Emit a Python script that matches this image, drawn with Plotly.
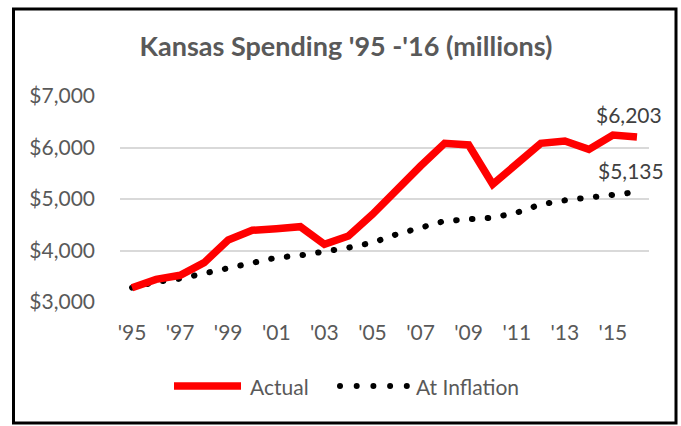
import plotly.graph_objects as go

years = list(range(1995, 2017))
year_labels = ["'" + str(y)[2:] for y in years]
actual = [3278, 3440, 3518, 3764, 4204, 4392, 4424, 4463, 4120, 4282, 4702,
          5188, 5641, 6081, 6049, 5285, 5673, 6081, 6126, 5964, 6243, 6203]
inflation = [3278, 3388, 3453, 3557, 3634, 3764, 3861, 3906, 3977, 4055, 4152,
             4314, 4443, 4573, 4605, 4638, 4735, 4896, 4974, 5026, 5058, 5135]
y_ticks = [3000, 4000, 5000, 6000, 7000]
title_text = "Kansas Spending '95 -'16 (millions)"
names = ["Actual", "At Inflation"]

W, H = 681, 426
ML, MR, MT, MB = 120, 32, 96, 124
PW, PH = W - ML - MR, H - MT - MB

def px(x):
    return (x - ML) / PW

def py(y):
    return (H - MB - y) / PH

FONT = "Lato"
GRAY = "#595959"
DOTS = "0.5px,15.3px"

fig = go.Figure()
fig.add_trace(go.Scatter(x=years, y=inflation, mode="lines", name=names[1],
                         line=dict(color="black", width=6, dash=DOTS),
                         showlegend=False))
fig.add_trace(go.Scatter(x=years, y=actual, mode="lines", name=names[0],
                         line=dict(color="#FF0000", width=7.5), showlegend=False))

# end labels
fig.add_annotation(x=years[-1], y=actual[-1], text="${:,}".format(actual[-1]),
                   showarrow=False, yshift=23, xshift=-8,
                   font=dict(family=FONT, size=21, color="#404040"))
fig.add_annotation(x=years[-1], y=inflation[-1], text="${:,}".format(inflation[-1]),
                   showarrow=False, yshift=22, xshift=-6,
                   font=dict(family=FONT, size=21, color="#404040"))

# manual legend
ly = py(386)
fig.add_shape(type="line", xref="paper", yref="paper", x0=px(174), x1=px(241), y0=ly, y1=ly,
              line=dict(color="#FF0000", width=7.5))
fig.add_annotation(xref="paper", yref="paper", x=px(248), y=ly, text=names[0], showarrow=False,
                   xanchor="left", yanchor="middle", font=dict(family=FONT, size=21, color=GRAY))
for i in range(5):
    fig.add_shape(type="circle", xref="paper", yref="paper",
                  xsizemode="pixel", ysizemode="pixel",
                  xanchor=px(340 + 16.7 * i), yanchor=ly,
                  x0=-3, x1=3, y0=-3, y1=3,
                  fillcolor="black", line=dict(width=0))
fig.add_annotation(xref="paper", yref="paper", x=px(414), y=ly, text=names[1], showarrow=False,
                   xanchor="left", yanchor="middle", font=dict(family=FONT, size=21, color=GRAY))

# outer border
fig.add_shape(type="rect", xref="paper", yref="paper", x0=px(13.5), x1=px(676), y0=py(423), y1=py(9),
              line=dict(color="black", width=3))

fig.update_layout(
    width=W, height=H,
    margin=dict(l=ML, r=MR, t=MT, b=MB),
    paper_bgcolor="white", plot_bgcolor="white",
    title=dict(text="<b>" + title_text + "</b>", xref="container", yref="container",
               x=346 / W, y=1 - 47 / H, xanchor="center", yanchor="middle",
               font=dict(family=FONT, size=27, color=GRAY)),
    xaxis=dict(range=[1994.5, 2016.5], tickmode="array", tickvals=years[::2],
               ticktext=year_labels[::2], showgrid=False, zeroline=False,
               showline=False, ticks="", ticklabelstandoff=16,
               tickfont=dict(family=FONT, size=21, color=GRAY)),
    yaxis=dict(range=[3000, 7000], tickmode="array", tickvals=y_ticks,
               ticktext=["${:,}".format(v) for v in y_ticks], showgrid=True,
               gridcolor="#D9D9D9", gridwidth=1.5, zeroline=False, showline=False,
               ticks="", ticklabelstandoff=24,
               tickfont=dict(family=FONT, size=21, color=GRAY)),
)

post = """
document.body.style.margin = '0';
document.body.style.overflow = 'hidden';
document.querySelectorAll('path').forEach(function (p) {
  var d = p.style.strokeDasharray;
  if (d && d !== 'none') { p.style.strokeLinecap = 'round'; }
});
"""
fig.write_html("out.html", post_script=post, config={"displayModeBar": False})
